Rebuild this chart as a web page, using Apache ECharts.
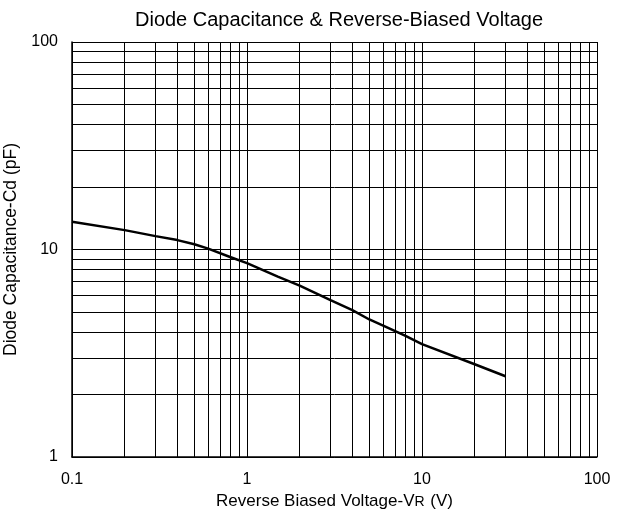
<!DOCTYPE html>
<html>
<head>
<meta charset="utf-8">
<script src="https://cdn.jsdelivr.net/npm/echarts@6/dist/echarts.min.js"></script>
<style>
  html, body { margin: 0; padding: 0; background: #fff; }
  #chart { width: 620px; height: 520px; }
</style>
</head>
<body>
<div id="chart"></div>
<script>
const voltage = [0.1, 0.2, 0.3, 0.4, 0.5, 0.6, 0.8, 1, 1.5, 2, 3, 4, 5, 6, 8, 10, 20, 30];
const capacitance = [13.6, 12.4, 11.6, 11.1, 10.6, 10.1, 9.2, 8.6, 7.4, 6.7, 5.7, 5.1, 4.6, 4.3, 3.85, 3.5, 2.8, 2.45];
const xMinorGrid = [0.2, 0.3, 0.4, 0.5, 0.6, 0.7, 0.8, 0.9, 2, 3, 4, 5, 6, 7, 8, 9, 20, 30, 40, 50, 60, 70, 80, 90];
const yMinorGrid = [2, 3, 4, 5, 6, 7, 8, 9, 20, 30, 40, 50, 60, 70, 80, 90];

const chart = echarts.init(document.getElementById("chart"));
const font = "Liberation Sans, Arial, sans-serif";

const gridLines = [
  ...xMinorGrid.map((v) => ({ xAxis: v })),
  ...yMinorGrid.map((v) => ({ yAxis: v })),
];

chart.setOption({
  animation: false,
  backgroundColor: "#fff",
  title: {
    text: "Diode Capacitance & Reverse-Biased Voltage",
    left: 334,
    top: 5,
    textAlign: "center",
    textStyle: { fontFamily: font, fontSize: 20, fontWeight: "normal", color: "#000" },
  },
  grid: { left: 72, right: 23, top: 42, bottom: 63, containLabel: false, outerBoundsMode: "none" },
  xAxis: {
    type: "log",
    logBase: 10,
    min: 0.1,
    max: 100,
    name: "Reverse Biased Voltage-V{s|R} (V)",
    nameLocation: "middle",
    nameGap: 35,
    nameTextStyle: {
      fontFamily: font, fontSize: 17, color: "#000",
      rich: { s: { fontFamily: font, fontSize: 14, color: "#000", padding: [1, 1, 0, 0] } },
    },
    axisLine: { show: true, lineStyle: { color: "#000", width: 1.5 } },
    axisTick: { show: false },
    axisLabel: { fontFamily: font, fontSize: 16, color: "#000", margin: 15 },
    splitLine: { show: true, lineStyle: { color: "#000", width: 1 } },
  },
  yAxis: {
    type: "log",
    logBase: 10,
    min: 1,
    max: 100,
    name: "Diode Capacitance-Cd (pF)",
    nameLocation: "middle",
    nameGap: 42,
    nameTextStyle: { fontFamily: font, fontSize: 17.5, color: "#000" },
    axisLine: { show: true, lineStyle: { color: "#000", width: 1.5 } },
    axisTick: { show: false },
    axisLabel: { fontFamily: font, fontSize: 16, color: "#000", margin: 14 },
    splitLine: { show: true, lineStyle: { color: "#000", width: 1 } },
  },
  series: [
    {
      type: "line",
      data: voltage.map((v, i) => [v, capacitance[i]]),
      showSymbol: false,
      symbol: "none",
      lineStyle: { color: "#000", width: 2.5 },
      z: 5,
      markLine: {
        silent: true,
        symbol: "none",
        animation: false,
        label: { show: false },
        lineStyle: { color: "#000", width: 1, type: "solid" },
        emphasis: { disabled: true },
        data: gridLines,
      },
    },
    {
      // frame on top and right
      type: "line",
      data: [],
      markLine: {
        silent: true,
        symbol: "none",
        label: { show: false },
        lineStyle: { color: "#000", width: 1, type: "solid" },
        data: [{ xAxis: 100 }, { yAxis: 100 }],
      },
    },
  ],
});
</script>
</body>
</html>
